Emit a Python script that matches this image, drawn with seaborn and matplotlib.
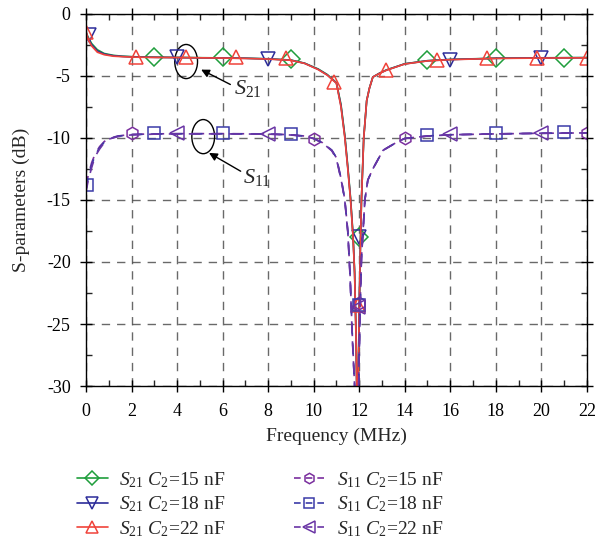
import matplotlib
matplotlib.use("Agg")
import matplotlib.pyplot as plt
import seaborn as sns
import pandas as pd
from matplotlib.lines import Line2D
from matplotlib.patches import Ellipse
from matplotlib.ticker import MultipleLocator

# ---- data ----
# S21 curves (solid)
f21 = [0, 0.1, 0.25, 0.5, 0.8, 1.2, 1.6, 2.2, 3, 4, 5, 6, 7, 8, 9, 9.6, 10.2, 10.6,
       11.0, 11.2, 11.37, 11.5, 11.62, 11.73, 11.8, 11.86, 11.9, 11.95, 12.0, 12.05,
       12.1, 12.2, 12.33, 12.45, 12.6, 12.9, 13.2, 13.6, 14, 15, 16, 17, 18, 20, 22]
s21_15 = [-1.5, -1.9, -2.4, -2.9, -3.2, -3.35, -3.42, -3.47, -3.5, -3.52, -3.54, -3.56, -3.58,
          -3.63, -3.73, -3.98, -4.45, -4.9, -5.55, -7.3, -9.8, -12.3, -14.8, -17.8, -20.8,
          -25.5, -31, -31, -24, -19, -15, -10, -7, -6, -5.1, -4.78, -4.52, -4.28, -4.03,
          -3.78, -3.68, -3.63, -3.58, -3.55, -3.53]
s21_18 = [-1.5, -2.0, -2.5, -3.0, -3.25, -3.38, -3.44, -3.49, -3.51, -3.53, -3.55, -3.57, -3.59,
          -3.64, -3.74, -3.99, -4.48, -4.93, -5.58, -7.4, -9.9, -12.4, -14.9, -17.9, -20.9,
          -25.8, -31, -31, -24, -19, -15, -10, -7, -6, -5.1, -4.79, -4.54, -4.29, -4.04,
          -3.79, -3.69, -3.64, -3.59, -3.56, -3.54]
s21_22 = [-1.4, -2.1, -2.6, -3.1, -3.3, -3.42, -3.46, -3.5, -3.52, -3.53, -3.55, -3.57, -3.6,
          -3.65, -3.75, -4.0, -4.5, -4.95, -5.6, -7.5, -10, -12.5, -15, -18, -21,
          -26, -31, -31, -24, -19, -15, -10, -7, -6, -5.1, -4.8, -4.55, -4.3, -4.05,
          -3.8, -3.7, -3.65, -3.6, -3.57, -3.55]

# S11 curves (dashed)
f11 = [0, 0.1, 0.25, 0.4, 0.6, 0.8, 1.0, 1.4, 2, 3, 4, 5, 6, 7, 8, 9, 9.6, 10, 10.4, 10.8,
       11.0, 11.23, 11.37, 11.5, 11.6, 11.7, 11.8, 11.88, 11.95, 12.03, 12.1, 12.25, 12.38,
       12.6, 13.05, 13.7, 14, 15, 16, 18, 20, 22]
s11_15 = [-14, -13, -12, -11.3, -10.7, -10.3, -10.05, -9.85, -9.72, -9.68, -9.66, -9.66, -9.66,
          -9.67, -9.68, -9.75, -9.85, -10.05, -10.4, -11.0, -11.6, -13.5, -15, -17.5, -21,
          -26, -30, -33, -33, -24.5, -19.7, -15, -13.4, -12.5, -11, -10.3, -10.05, -9.85,
          -9.75, -9.68, -9.63, -9.6]
s11_18 = [-14.2, -13.2, -12.2, -11.4, -10.8, -10.35, -10.1, -9.87, -9.74, -9.69, -9.67, -9.67, -9.67,
          -9.68, -9.69, -9.76, -9.86, -10.05, -10.4, -11.0, -11.6, -13.5, -15, -17.5, -21,
          -26, -30, -33, -33, -24.5, -19.7, -15, -13.4, -12.5, -11, -10.3, -10.05, -9.85,
          -9.75, -9.68, -9.63, -9.6]
s11_22 = [-14.4, -13.4, -12.4, -11.5, -10.9, -10.4, -10.1, -9.9, -9.76, -9.7, -9.68, -9.68, -9.68,
          -9.69, -9.7, -9.77, -9.87, -10.06, -10.42, -11.05, -11.7, -13.6, -15.1, -17.6, -21.2,
          -26.2, -30, -33, -33, -24.5, -19.7, -15, -13.4, -12.5, -11, -10.3, -10.05, -9.85,
          -9.75, -9.68, -9.63, -9.6]

# marker positions (as seen in the reference)
mk21_15_f = [3, 6, 9, 12, 15, 18, 21]
mk21_15_v = [-3.5, -3.5, -3.65, -18, -3.75, -3.6, -3.55]
mk21_18_f = [0.15, 4, 8, 12, 16, 20]
mk21_18_v = [-1.7, -3.5, -3.65, -18, -3.72, -3.6]
mk21_22_f = [0, 2.2, 4.4, 6.6, 8.8, 10.9, 11.95, 13.2, 15.4, 17.6, 19.8, 22]
mk21_22_v = [-1.5, -3.45, -3.45, -3.5, -3.6, -5.5, -23.5, -4.55, -3.7, -3.6, -3.55, -3.55]

mk11_15_f = [2, 10, 12, 14, 22]
mk11_15_v = [-9.6, -10.1, -23.3, -10.0, -9.6]
mk11_18_f = [0.05, 3, 6, 9, 12, 15, 18, 21]
mk11_18_v = [-13.8, -9.6, -9.6, -9.65, -23.5, -9.8, -9.6, -9.55]
mk11_22_f = [4, 8, 11.95, 16, 20]
mk11_22_v = [-9.6, -9.65, -23.6, -9.7, -9.6]

labels21 = [r"$S_{21}$ $C_2$=15 nF", r"$S_{21}$ $C_2$=18 nF", r"$S_{21}$ $C_2$=22 nF"]
labels11 = [r"$S_{11}$ $C_2$=15 nF", r"$S_{11}$ $C_2$=18 nF", r"$S_{11}$ $C_2$=22 nF"]

sns.set_style("ticks")
plt.rcParams["font.family"] = ["Liberation Serif", "DejaVu Serif"]
plt.rcParams["mathtext.fontset"] = "custom"
plt.rcParams["mathtext.rm"] = "Liberation Serif"
plt.rcParams["mathtext.it"] = "Liberation Serif:italic"
plt.rcParams["axes.unicode_minus"] = False

fig = plt.figure(figsize=(5.97, 5.5), dpi=100)
ax = fig.add_axes([0.144, 0.298, 0.839, 0.677])

c_green = "#1f9e3c"
c_blue = "#2c2c9a"
c_red = "#f0433a"
c_purple = "#7a2f9e"
c_sqblue = "#3b3ba8"
c_violet = "#6a35a5"

series = [
    (f21, s21_15, mk21_15_f, mk21_15_v, c_green, "-", "D", 9, labels21[0]),
    (f21, s21_18, mk21_18_f, mk21_18_v, c_blue, "-", "v", 10, labels21[1]),
    (f21, s21_22, mk21_22_f, mk21_22_v, c_red, "-", "^", 10, labels21[2]),
    (f11, s11_15, mk11_15_f, mk11_15_v, c_purple, (0, (7, 5)), "h", 9, labels11[0]),
    (f11, s11_18, mk11_18_f, mk11_18_v, c_sqblue, (0, (7, 5)), "s", 8.5, labels11[1]),
    (f11, s11_22, mk11_22_f, mk11_22_v, c_violet, (0, (7, 5)), "<", 10, labels11[2]),
]

handles = []
for fx, fy, mx, my, col, ls, mk, ms, lab in series:
    df = pd.DataFrame({"f": fx, "v": fy})
    sns.lineplot(data=df, x="f", y="v", ax=ax, color=col, lw=1.2, linestyle=ls,
                 sort=False, estimator=None)
    ax.plot(mx, my, linestyle="none", marker=mk, ms=ms, mfc="none", mec=col, mew=1.1)
    handles.append(Line2D([], [], color=col, lw=1.2, linestyle=(0, (4, 3)) if ls != "-" else ls,
                          marker=mk, ms=ms - 1.5, mfc="none", mec=col, mew=1.1, label=lab))

ax.set_xlim(0, 22)
ax.set_ylim(-30, 0)
ax.xaxis.set_major_locator(MultipleLocator(2))
ax.xaxis.set_minor_locator(MultipleLocator(1))
ax.yaxis.set_major_locator(MultipleLocator(5))
ax.yaxis.set_minor_locator(MultipleLocator(2.5))
ax.tick_params(which="major", direction="inout", length=8, width=1, labelsize=13,
               top=True, right=True, colors="black")
ax.tick_params(which="minor", direction="in", length=4, width=1, top=True, right=True)
ax.tick_params(axis="x", which="major", pad=8)
ax.tick_params(axis="y", which="major", pad=7)
ax.grid(True, which="major", color="#444444", linestyle=(0, (6, 5)), lw=1.0, alpha=0.8)
for sp in ax.spines.values():
    sp.set_linewidth(1.0)
    sp.set_color("black")
ax.set_xlabel("Frequency (MHz)", fontsize=14, labelpad=6)
ax.set_ylabel("S-parameters (dB)", fontsize=14, labelpad=12)

# annotation ellipses and arrows
ax.add_patch(Ellipse((4.4, -3.85), 1.0, 2.75, fill=False, color="black", lw=1.0))
ax.add_patch(Ellipse((5.15, -9.9), 1.0, 2.75, fill=False, color="black", lw=1.0))
ax.annotate("", xy=(4.95, -4.4), xytext=(6.45, -5.8),
            arrowprops=dict(arrowstyle="-|>", color="black", lw=1.0, mutation_scale=12))
ax.annotate("", xy=(5.3, -11.1), xytext=(6.9, -12.8),
            arrowprops=dict(arrowstyle="-|>", color="black", lw=1.0, mutation_scale=12))
ax.text(6.5, -6.5, r"$S_{21}$", fontsize=16)
ax.text(6.9, -13.6, r"$S_{11}$", fontsize=16)

fig.legend(handles=handles, loc="upper left", bbox_to_anchor=(0.099, 0.177), ncol=2,
           frameon=False, fontsize=14, handlelength=1.6, columnspacing=3.5,
           labelspacing=0.25, handletextpad=0.6)

fig.savefig("out.png", dpi=100)
